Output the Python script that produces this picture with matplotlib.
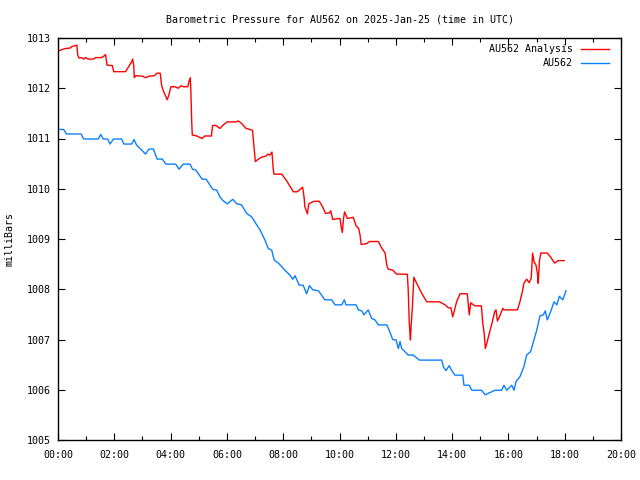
import matplotlib
matplotlib.use('Agg')
import matplotlib.pyplot as plt
from matplotlib.ticker import MultipleLocator

# hours (UTC) and pressure in millibars
red_t = [0.0, 0.25, 0.43, 0.49, 0.63, 0.67, 0.70, 0.75, 0.84, 0.91, 0.98, 1.08, 1.25, 1.34,
         1.55, 1.65, 1.69, 1.74, 1.93, 1.98, 2.40, 2.62, 2.65, 2.69, 2.71, 2.76, 3.0, 3.11,
         3.23, 3.42, 3.52, 3.63, 3.68, 3.74, 3.88, 3.94, 4.01, 4.16, 4.27, 4.37, 4.45, 4.61,
         4.65, 4.70, 4.72, 4.75, 4.77, 4.93, 5.12, 5.21, 5.45, 5.49, 5.61, 5.75, 5.87, 6.01,
         6.32, 6.41, 6.52, 6.68, 6.82, 6.91, 6.96, 7.01, 7.12, 7.24, 7.39, 7.46, 7.53, 7.60,
         7.65, 7.67, 7.95, 8.12, 8.36, 8.50, 8.69, 8.74, 8.77, 8.86, 8.91, 9.09, 9.28, 9.40,
         9.50, 9.64, 9.69, 9.76, 10.02, 10.06, 10.10, 10.14, 10.18, 10.28, 10.49, 10.59, 10.68,
         10.73, 10.77, 10.97, 11.06, 11.38, 11.49, 11.62, 11.68, 11.73, 11.89, 12.03, 12.41,
         12.44, 12.48, 12.52, 12.54, 12.59, 12.64, 12.74, 12.92, 13.10, 13.55, 13.75, 13.87,
         13.96, 14.02, 14.07, 14.16, 14.28, 14.54, 14.59, 14.61, 14.66, 14.71, 14.81, 15.04,
         15.09, 15.14, 15.18, 15.23, 15.32, 15.42, 15.51, 15.56, 15.61, 15.68, 15.80, 15.84,
         16.32, 16.41, 16.51, 16.55, 16.65, 16.74, 16.81, 16.86, 16.91, 16.98, 17.03, 17.06,
         17.10, 17.15, 17.38, 17.50, 17.64, 17.77, 17.98]
red_p = [1012.74, 1012.79, 1012.80, 1012.83, 1012.85, 1012.86, 1012.66, 1012.60, 1012.61,
         1012.58, 1012.61, 1012.58, 1012.58, 1012.61, 1012.61, 1012.65, 1012.67, 1012.46,
         1012.45, 1012.33, 1012.33, 1012.53, 1012.58, 1012.46, 1012.21, 1012.25, 1012.24,
         1012.21, 1012.24, 1012.25, 1012.30, 1012.30, 1012.06, 1011.95, 1011.77, 1011.87,
         1012.03, 1012.03, 1012.00, 1012.05, 1012.03, 1012.03, 1012.13, 1012.21, 1011.93,
         1011.33, 1011.07, 1011.05, 1011.00, 1011.05, 1011.05, 1011.26, 1011.26, 1011.20,
         1011.27, 1011.33, 1011.33, 1011.35, 1011.30, 1011.20, 1011.18, 1011.16, 1010.85,
         1010.54, 1010.59, 1010.63, 1010.65, 1010.69, 1010.67, 1010.73, 1010.37, 1010.29,
         1010.29, 1010.16, 1009.94, 1009.94, 1010.03, 1009.84, 1009.64, 1009.50, 1009.70,
         1009.75, 1009.75, 1009.64, 1009.51, 1009.52, 1009.56, 1009.39, 1009.41, 1009.24,
         1009.13, 1009.39, 1009.54, 1009.41, 1009.43, 1009.26, 1009.21, 1009.08, 1008.89,
         1008.91, 1008.95, 1008.95, 1008.83, 1008.72, 1008.48, 1008.40, 1008.38, 1008.30,
         1008.30, 1007.99, 1007.32, 1006.99, 1007.22, 1007.65, 1008.24, 1008.12, 1007.92,
         1007.75, 1007.75, 1007.69, 1007.63, 1007.63, 1007.45, 1007.55, 1007.75, 1007.91,
         1007.91, 1007.62, 1007.49, 1007.73, 1007.71, 1007.67, 1007.67, 1007.32, 1007.12,
         1006.82, 1006.92, 1007.12, 1007.33, 1007.55, 1007.59, 1007.37, 1007.45, 1007.62,
         1007.59, 1007.59, 1007.75, 1007.99, 1008.12, 1008.20, 1008.13, 1008.22, 1008.72,
         1008.55, 1008.48, 1008.32, 1008.12, 1008.55, 1008.72, 1008.72, 1008.64, 1008.52,
         1008.57, 1008.57]

blue_t = [0.0, 0.20, 0.30, 0.82, 0.91, 1.43, 1.52, 1.61, 1.76, 1.85, 1.97, 2.26, 2.34, 2.62,
          2.70, 2.79, 2.97, 3.11, 3.23, 3.39, 3.52, 3.71, 3.83, 4.18, 4.30, 4.45, 4.69, 4.78,
          4.90, 5.12, 5.26, 5.38, 5.50, 5.64, 5.75, 5.87, 6.01, 6.21, 6.35, 6.52, 6.70, 6.88,
          7.06, 7.18, 7.35, 7.47, 7.59, 7.68, 7.83, 8.06, 8.24, 8.34, 8.42, 8.57, 8.71, 8.83,
          8.93, 9.05, 9.25, 9.48, 9.72, 9.84, 10.08, 10.17, 10.23, 10.59, 10.67, 10.79, 10.87,
          11.02, 11.14, 11.26, 11.38, 11.68, 11.76, 11.89, 12.01, 12.09, 12.15, 12.21, 12.27,
          12.44, 12.62, 12.84, 13.63, 13.69, 13.78, 13.90, 13.98, 14.10, 14.38, 14.42, 14.61,
          14.70, 15.05, 15.17, 15.29, 15.52, 15.76, 15.84, 15.94, 16.12, 16.20, 16.27, 16.41,
          16.55, 16.65, 16.79, 16.89, 17.01, 17.12, 17.24, 17.31, 17.38, 17.50, 17.62, 17.72,
          17.81, 17.93, 18.05]
blue_p = [1011.18, 1011.18, 1011.09, 1011.09, 1010.99, 1010.99, 1011.08, 1010.99, 1010.99,
          1010.89, 1010.99, 1010.99, 1010.89, 1010.89, 1010.98, 1010.87, 1010.77, 1010.69,
          1010.79, 1010.79, 1010.59, 1010.59, 1010.49, 1010.49, 1010.39, 1010.49, 1010.49,
          1010.39, 1010.37, 1010.19, 1010.19, 1010.09, 1009.99, 1009.97, 1009.84, 1009.76,
          1009.70, 1009.79, 1009.70, 1009.68, 1009.51, 1009.44, 1009.28, 1009.18, 1008.98,
          1008.81, 1008.78, 1008.58, 1008.52, 1008.38, 1008.28, 1008.20, 1008.27, 1008.08,
          1008.08, 1007.91, 1008.07, 1007.99, 1007.97, 1007.79, 1007.79, 1007.69, 1007.69,
          1007.79, 1007.69, 1007.69, 1007.59, 1007.57, 1007.49, 1007.59, 1007.42, 1007.39,
          1007.29, 1007.29, 1007.19, 1007.00, 1006.99, 1006.82, 1006.96, 1006.82, 1006.79,
          1006.69, 1006.69, 1006.59, 1006.59, 1006.46, 1006.38, 1006.48, 1006.39, 1006.29,
          1006.29, 1006.09, 1006.09, 1005.99, 1005.99, 1005.90, 1005.93, 1005.99, 1005.99,
          1006.09, 1005.99, 1006.09, 1005.99, 1006.16, 1006.26, 1006.46, 1006.69, 1006.76,
          1006.96, 1007.19, 1007.47, 1007.49, 1007.57, 1007.39, 1007.55, 1007.75, 1007.69,
          1007.86, 1007.79, 1007.97]

x_ticks = [0, 2, 4, 6, 8, 10, 12, 14, 16, 18, 20]
x_labels = ['00:00', '02:00', '04:00', '06:00', '08:00', '10:00', '12:00', '14:00',
            '16:00', '18:00', '20:00']
y_ticks = [1005, 1006, 1007, 1008, 1009, 1010, 1011, 1012, 1013]

plt.rcParams['font.family'] = 'DejaVu Sans Mono'
plt.rcParams['font.size'] = 7.2

fig = plt.figure(figsize=(6.4, 4.8), dpi=100)
ax = fig.add_axes([58 / 640, 40 / 480, 563 / 640, 402 / 480])

ax.plot(red_t, red_p, color='#ff0000', lw=1.0, label='AU562 Analysis')
ax.plot(blue_t, blue_p, color='#0a80ff', lw=1.0, label='AU562')

ax.set_xlim(0, 20)
ax.set_ylim(1005, 1013)
ax.set_xticks(x_ticks)
ax.set_xticklabels(x_labels)
ax.set_yticks(y_ticks)
ax.xaxis.set_minor_locator(MultipleLocator(1))
ax.tick_params(which='both', direction='in', top=True, right=True)
ax.tick_params(axis='x', pad=7)
ax.tick_params(axis='y', pad=5)
ax.tick_params(which='major', length=5, width=0.8)
ax.tick_params(which='minor', length=3, width=0.8)
for s in ax.spines.values():
    s.set_linewidth(1.0)

ax.set_ylabel('milliBars')
ax.yaxis.set_label_coords(-0.0764, 0.5)
fig.text(339.5 / 640, 1 - 19 / 480, 'Barometric Pressure for AU562 on 2025-Jan-25 (time in UTC)',
         ha='center', va='center')
ax.legend(loc='upper right', frameon=False, markerfirst=False, handlelength=2.8,
          handletextpad=0.8, borderpad=0, borderaxespad=0, labelspacing=0.45,
          bbox_to_anchor=(609 / 640, 1 - 44 / 480), bbox_transform=fig.transFigure)

fig.savefig('out.png', dpi=100)
